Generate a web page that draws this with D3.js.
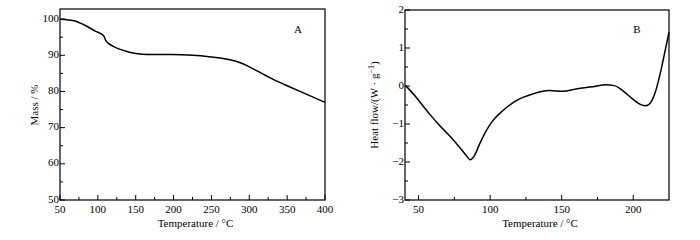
<!DOCTYPE html>
<html>
<head>
<meta charset="utf-8">
<script src="https://cdn.jsdelivr.net/npm/d3@7"></script>
<style>
  body { margin: 0; background: #fff; }
  text { font-family: "Liberation Serif", "Times New Roman", serif; fill: #000; }
</style>
</head>
<body>
<div id="chart"></div>
<script>
// Panel A: TGA, mass vs temperature
const tgaTemp = [50, 70, 83, 96.5, 107.6, 110.7, 114, 123, 136, 150, 167, 198, 225, 247, 269, 280, 290, 300, 314, 331, 353, 376, 400];
const tgaMass = [100, 99.5, 98.3, 96.7, 95.4, 94.0, 93.3, 92.2, 91.2, 90.5, 90.2, 90.2, 90.0, 89.6, 89.0, 88.5, 87.8, 86.8, 85.3, 83.4, 81.3, 79.2, 77.0];

// Panel B: DSC, heat flow vs temperature
const dscTemp = [41, 48.4, 57.7, 64.7, 71.6, 78.6, 83.3, 86, 89, 92.6, 97.2, 101.9, 108.8, 118, 129.8, 141.4, 150.7, 160, 171.6, 180.9, 186.7, 192.6, 199.5, 205.3, 208.8, 212.3, 215.8, 219.3, 222.8, 225];
const dscFlow = [0.01, -0.30, -0.74, -1.04, -1.31, -1.61, -1.83, -1.94, -1.83, -1.53, -1.18, -0.91, -0.65, -0.39, -0.21, -0.12, -0.14, -0.08, -0.02, 0.03, 0.01, -0.12, -0.34, -0.49, -0.52, -0.43, -0.12, 0.40, 1.02, 1.41];

const svg = d3.select("#chart").append("svg")
    .attr("width", 700)
    .attr("height", 240);

function panel(opts) {
    const x = d3.scaleLinear().domain(opts.xDomain).range([opts.left, opts.right]);
    const y = d3.scaleLinear().domain(opts.yDomain).range([opts.bottom, opts.top]);
    const g = svg.append("g");

    // minor ticks (inward)
    g.append("g").selectAll("line")
        .data(opts.xMinor)
        .join("line")
        .attr("x1", d => x(d)).attr("x2", d => x(d))
        .attr("y1", opts.bottom).attr("y2", opts.bottom - 3)
        .attr("stroke", "#000");
    g.append("g").selectAll("line")
        .data(opts.yMinor)
        .join("line")
        .attr("y1", d => y(d)).attr("y2", d => y(d))
        .attr("x1", opts.left).attr("x2", opts.left + 3)
        .attr("stroke", "#000");

    // major ticks
    g.append("g").selectAll("line")
        .data(opts.xTicks)
        .join("line")
        .attr("x1", d => x(d)).attr("x2", d => x(d))
        .attr("y1", opts.bottom).attr("y2", opts.bottom - 5)
        .attr("stroke", "#000");
    g.append("g").selectAll("line")
        .data(opts.yTicks)
        .join("line")
        .attr("y1", d => y(d)).attr("y2", d => y(d))
        .attr("x1", opts.left).attr("x2", opts.left + 5)
        .attr("stroke", "#000");

    // tick labels
    g.append("g").selectAll("text")
        .data(opts.xTicks)
        .join("text")
        .attr("x", d => x(d))
        .attr("y", opts.bottom + 13)
        .attr("text-anchor", "middle")
        .attr("font-size", "11px")
        .text(d => d);
    g.append("g").selectAll("text")
        .data(opts.yTicks)
        .join("text")
        .attr("x", opts.left - 1)
        .attr("y", d => y(d) - 1)
        .attr("dy", "0.32em")
        .attr("text-anchor", "end")
        .attr("font-size", "11px")
        .text(d => d < 0 ? "\u2212" + Math.abs(d) : d);

    // curve
    const line = d3.line()
        .x(d => x(d[0]))
        .y(d => y(d[1]))
        .curve(d3.curveMonotoneX);
    g.append("path")
        .datum(d3.zip(opts.xs, opts.ys))
        .attr("d", line)
        .attr("fill", "none")
        .attr("stroke", "#000")
        .attr("stroke-width", 1.5);

    // frame
    g.append("rect")
        .attr("x", opts.left).attr("y", opts.top)
        .attr("width", opts.right - opts.left)
        .attr("height", opts.bottom - opts.top)
        .attr("fill", "none")
        .attr("stroke", "#000")
        .attr("stroke-width", 1.2);

    // axis titles
    g.append("text")
        .attr("x", (opts.left + opts.right) / 2 + 3)
        .attr("y", 227)
        .attr("text-anchor", "middle")
        .attr("font-size", "11px")
        .text("Temperature / °C");
    g.append("text")
        .attr("transform", `translate(${opts.yTitleX},105) rotate(-90)`)
        .attr("text-anchor", "middle")
        .attr("font-size", "11px")
        .html(opts.yTitle);

    g.append("text")
        .attr("x", opts.letterX)
        .attr("y", 33)
        .attr("text-anchor", "middle")
        .attr("font-size", "11px")
        .text(opts.letter);
}

panel({
    left: 60, right: 325, top: 9, bottom: 200,
    xDomain: [50, 400], yDomain: [50, 102.8],
    xTicks: [50, 100, 150, 200, 250, 300, 350, 400],
    xMinor: [75, 125, 175, 225, 275, 325, 375],
    yTicks: [50, 60, 70, 80, 90, 100],
    yMinor: [55, 65, 75, 85, 95],
    xs: tgaTemp, ys: tgaMass,
    yTitle: "Mass / %", yTitleX: 38,
    letter: "A", letterX: 298
});

panel({
    left: 405, right: 669, top: 10, bottom: 200,
    xDomain: [40.5, 225], yDomain: [-3, 2],
    xTicks: [50, 100, 150, 200],
    xMinor: [75, 125, 175],
    yTicks: [-3, -2, -1, 0, 1, 2],
    yMinor: [-2.5, -1.5, -0.5, 0.5, 1.5],
    xs: dscTemp, ys: dscFlow,
    yTitle: "Heat flow/(W · g<tspan dy='-4' font-size='8px'>\u22121</tspan><tspan dy='4'>)</tspan>", yTitleX: 378,
    letter: "B", letterX: 637
});
</script>
</body>
</html>
